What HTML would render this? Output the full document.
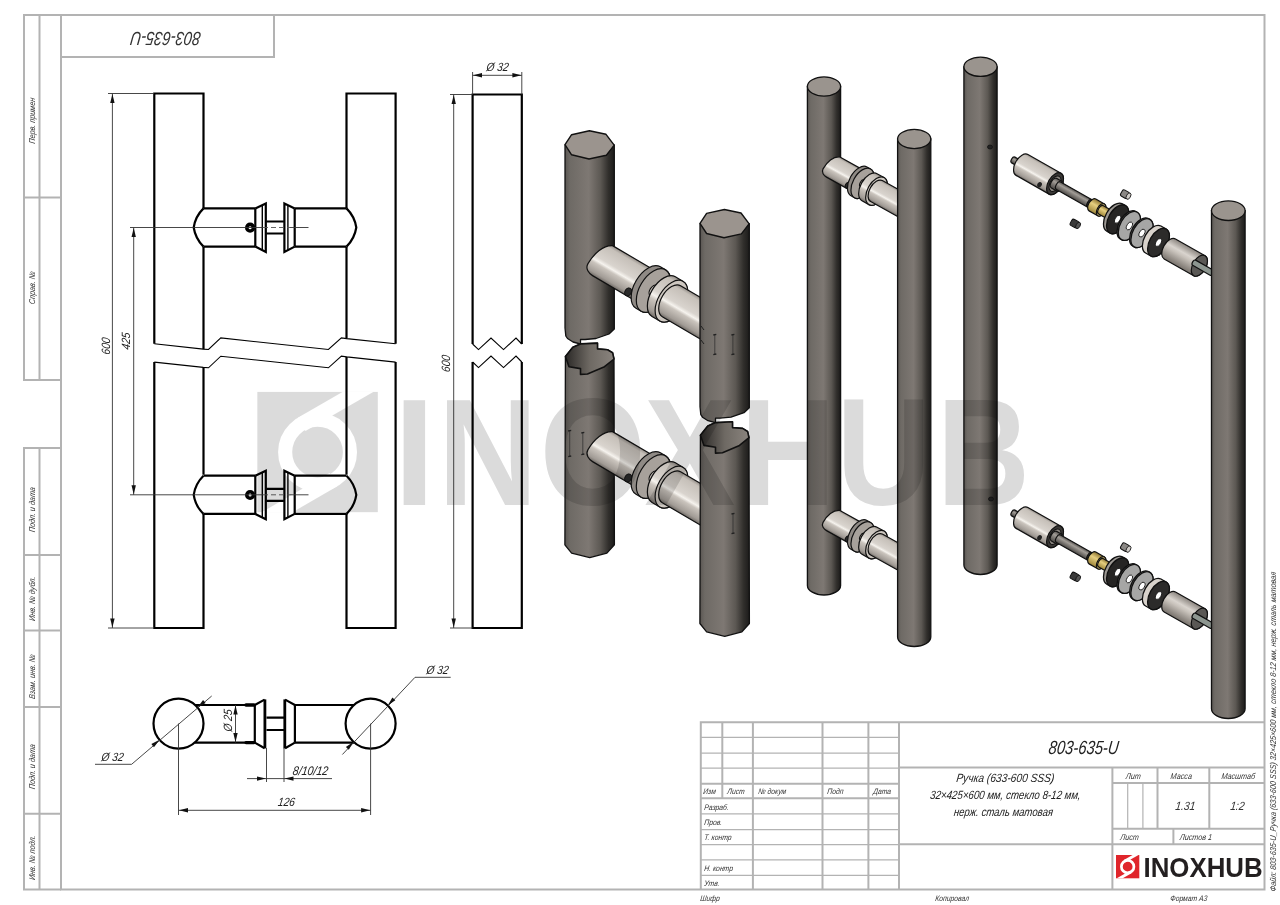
<!DOCTYPE html>
<html><head><meta charset="utf-8"><style>
html,body{margin:0;padding:0;background:#fff;width:1280px;height:905px;overflow:hidden}
svg{display:block}
text{font-family:"Liberation Sans",sans-serif}
</style></head><body>
<svg width="1280" height="905" viewBox="0 0 1280 905">
<rect width="1280" height="905" fill="#fff"/>
<!-- frame -->
<g stroke="#b3b3b3" stroke-width="2" fill="none">
<rect x="61" y="15" width="1203.5" height="874.5"/>
<polyline points="61,57 274,57 274,15"/>
<polyline points="61,15 24,15 24,380 61,380"/>
<line x1="39.5" y1="15" x2="39.5" y2="380"/>
<line x1="24" y1="197.5" x2="61" y2="197.5"/>
<polyline points="61,448 24,448 24,889.5 61,889.5"/>
<line x1="39.5" y1="448" x2="39.5" y2="889.5"/>
<line x1="24" y1="555" x2="61" y2="555"/>
<line x1="24" y1="630.5" x2="61" y2="630.5"/>
<line x1="24" y1="707" x2="61" y2="707"/>
<line x1="24" y1="813.7" x2="61" y2="813.7"/>
</g>
<g font-family="Liberation Sans" font-style="italic" fill="#333">
<text x="0" y="0" font-size="8.5" text-anchor="middle" transform="translate(35 121) rotate(-90) skewX(-7) scale(0.85 1)">Перв. примен</text>
<text x="0" y="0" font-size="8.5" text-anchor="middle" transform="translate(35 288) rotate(-90) skewX(-7) scale(0.85 1)">Справ. №</text>
<text x="0" y="0" font-size="8.5" text-anchor="middle" transform="translate(35 510) rotate(-90) skewX(-7) scale(0.85 1)">Подп. и дата</text>
<text x="0" y="0" font-size="8.5" text-anchor="middle" transform="translate(35 599) rotate(-90) skewX(-7) scale(0.85 1)">Инв. № дубл.</text>
<text x="0" y="0" font-size="8.5" text-anchor="middle" transform="translate(35 677) rotate(-90) skewX(-7) scale(0.85 1)">Взам. инв. №</text>
<text x="0" y="0" font-size="8.5" text-anchor="middle" transform="translate(35 767) rotate(-90) skewX(-7) scale(0.85 1)">Подп. и дата</text>
<text x="0" y="0" font-size="8.5" text-anchor="middle" transform="translate(35 858) rotate(-90) skewX(-7) scale(0.85 1)">Инв. № подл.</text>
<text x="0" y="0" font-size="19" text-anchor="middle" transform="translate(166.5 31.5) rotate(180) skewX(-7) scale(0.78 1)">803-635-U</text>
</g>
<!-- draw2d -->
<g fill="none" stroke="#000" stroke-width="2.2" stroke-linejoin="miter">
<polyline points="154.3,343.8 154.3,93.5 203.5,93.5 203.5,208.6"/>
<polyline points="203.5,246.75 203.5,349.1"/>
<polyline points="346.5,338.6 346.5,246.75"/>
<polyline points="346.5,208.6 346.5,93.5 395.6,93.5 395.6,343.8"/>
<polyline points="154.3,362.1 154.3,628 203.5,628 203.5,514"/>
<polyline points="203.5,474.7 203.5,367.40000000000003"/>
<polyline points="346.5,356.90000000000003 346.5,474.7"/>
<polyline points="346.5,514 346.5,628 395.6,628 395.6,362.1"/>
</g>
<polyline fill="none" stroke="#000" stroke-width="1.1" points="154.3,343.8 203.3,349.1 208.5,349.5 220.8,337.9 328.4,349.5 341.4,337.9 346.7,338.6 395.6,343.8"/>
<polyline fill="none" stroke="#000" stroke-width="1.1" points="154.3,362.1 203.3,367.40000000000003 208.5,367.8 220.8,356.2 328.4,367.8 341.4,356.2 346.7,356.90000000000003 395.6,362.1"/>
<g fill="none" stroke="#000" stroke-width="2.2">
<path d="M203.5,208.4 L255.3,208.4 M203.5,246.6 L255.3,246.6 M255.3,208.4 L255.3,246.6"/>
<path d="M203.5,208.4 A34,34 0 0 0 193.7,227.5 A34,34 0 0 0 203.5,246.6"/>
<path d="M255.3,208.4 L265.8,203.5 L265.8,252.0 L255.3,246.6"/>
<path d="M262.3,205.0 L262.3,250.5" stroke-width="1.4"/>
<path d="M266.3,221.5 L283.9,221.5 M266.3,233.5 L283.9,233.5"/>
<path d="M294.7,208.4 L284.4,203.5 L284.4,252.0 L294.7,246.6"/>
<path d="M287.9,205.0 L287.9,250.5" stroke-width="1.4"/>
<path d="M294.7,208.4 L346.5,208.4 M294.7,246.6 L346.5,246.6 M294.7,208.4 L294.7,246.6"/>
<path d="M346.5,208.4 A34,34 0 0 1 356.3,227.5 A34,34 0 0 1 346.5,246.6"/>
</g>
<circle cx="250.1" cy="227.7" r="3.3" fill="#fff" stroke="#000" stroke-width="3.6"/>
<line x1="130" y1="227.5" x2="263" y2="227.5" stroke="#333" stroke-width="0.9"/>
<line x1="263" y1="227.5" x2="290" y2="227.5" stroke="#555" stroke-width="0.9" stroke-dasharray="5 3"/>
<line x1="290" y1="227.5" x2="308.5" y2="227.5" stroke="#333" stroke-width="0.9"/>
<g fill="none" stroke="#000" stroke-width="2.2">
<path d="M203.5,475.7 L255.3,475.7 M203.5,513.9 L255.3,513.9 M255.3,475.7 L255.3,513.9"/>
<path d="M203.5,475.7 A34,34 0 0 0 193.7,494.8 A34,34 0 0 0 203.5,513.9"/>
<path d="M255.3,475.7 L265.8,470.8 L265.8,519.3 L255.3,513.9"/>
<path d="M262.3,472.3 L262.3,517.8" stroke-width="1.4"/>
<path d="M266.3,488.8 L283.9,488.8 M266.3,500.8 L283.9,500.8"/>
<path d="M294.7,475.7 L284.4,470.8 L284.4,519.3 L294.7,513.9"/>
<path d="M287.9,472.3 L287.9,517.8" stroke-width="1.4"/>
<path d="M294.7,475.7 L346.5,475.7 M294.7,513.9 L346.5,513.9 M294.7,475.7 L294.7,513.9"/>
<path d="M346.5,475.7 A34,34 0 0 1 356.3,494.8 A34,34 0 0 1 346.5,513.9"/>
</g>
<circle cx="250.1" cy="495.0" r="3.3" fill="#fff" stroke="#000" stroke-width="3.6"/>
<line x1="130" y1="494.8" x2="263" y2="494.8" stroke="#333" stroke-width="0.9"/>
<line x1="263" y1="494.8" x2="290" y2="494.8" stroke="#555" stroke-width="0.9" stroke-dasharray="5 3"/>
<line x1="290" y1="494.8" x2="308.5" y2="494.8" stroke="#333" stroke-width="0.9"/>
<line x1="108" y1="93.5" x2="154" y2="93.5" stroke="#333" stroke-width="0.9"/>
<line x1="108" y1="628" x2="154" y2="628" stroke="#333" stroke-width="0.9"/>
<line x1="112.4" y1="93.5" x2="112.4" y2="628" stroke="#333" stroke-width="0.9"/>
<polygon points="112.4,94 110.2,103 114.60000000000001,103" fill="#111"/>
<polygon points="112.4,627.5 110.2,618.5 114.60000000000001,618.5" fill="#111"/>
<line x1="133.7" y1="227.5" x2="133.7" y2="494.8" stroke="#333" stroke-width="0.9"/>
<polygon points="133.7,228 131.5,237 135.89999999999998,237" fill="#111"/>
<polygon points="133.7,494.3 131.5,485.3 135.89999999999998,485.3" fill="#111"/>
<rect x="472.6" y="94.5" width="49.2" height="0" />
<g fill="none" stroke="#000" stroke-width="2.2">
<polyline points="472.6,344 472.6,94.5 521.8,94.5 521.8,344"/>
<polyline points="472.6,362 472.6,628 521.8,628 521.8,362"/>
</g>
<polyline fill="none" stroke="#000" stroke-width="1.1" points="472.6,344 478.5,349.6 491,338 503.5,349.6 516,338 521.8,344"/>
<polyline fill="none" stroke="#000" stroke-width="1.1" points="472.6,362 478.5,367.6 491,356 503.5,367.6 516,356 521.8,362"/>
<line x1="450" y1="94.5" x2="472.6" y2="94.5" stroke="#333" stroke-width="0.9"/>
<line x1="450" y1="628" x2="472.6" y2="628" stroke="#333" stroke-width="0.9"/>
<line x1="453.7" y1="94.5" x2="453.7" y2="628" stroke="#333" stroke-width="0.9"/>
<polygon points="453.7,95 451.5,104 455.9,104" fill="#111"/>
<polygon points="453.7,627.5 451.5,618.5 455.9,618.5" fill="#111"/>
<line x1="472.6" y1="72" x2="472.6" y2="94.5" stroke="#333" stroke-width="0.9"/>
<line x1="521.8" y1="72" x2="521.8" y2="94.5" stroke="#333" stroke-width="0.9"/>
<line x1="472.6" y1="75.3" x2="521.8" y2="75.3" stroke="#333" stroke-width="0.9"/>
<polygon points="473,75.3 482,73.1 482,77.5" fill="#111"/>
<polygon points="521.4,75.3 512.4,73.1 512.4,77.5" fill="#111"/>
<g fill="none" stroke="#000" stroke-width="2.2">
<circle cx="178.5" cy="723.6" r="25"/>
<circle cx="370.6" cy="723.6" r="25"/>
<path d="M195,705 L254.8,705 M195,742.6 L254.8,742.6 M254.8,705 L254.8,742.6"/>
<path d="M254.8,705 L264.6,699.6 M254.8,742.6 L264.6,748.2"/>
<path d="M264.9,699.4 L264.9,748.4" stroke-width="2.8"/>
<path d="M266.5,717.7 L284,717.7 M266.5,730 L284,730"/>
<path d="M294.9,705 L285.1,699.6 M294.9,742.6 L285.1,748.2"/>
<path d="M284.8,699.4 L284.8,748.4" stroke-width="2.8"/>
<path d="M246,705 L254,705 M246,742.6 L254,742.6" stroke-width="3.4" stroke-linecap="round"/>
<path d="M294.9,705 L354,705 M294.9,742.6 L354,742.6 M294.9,705 L294.9,742.6"/>
</g>
<line x1="178.5" y1="723.6" x2="178.5" y2="815" stroke="#333" stroke-width="0.9"/>
<line x1="370.6" y1="723.6" x2="370.6" y2="815" stroke="#333" stroke-width="0.9"/>
<line x1="178.5" y1="810.3" x2="370.6" y2="810.3" stroke="#333" stroke-width="0.9"/>
<polygon points="179,810.3 188,808.0999999999999 188,812.5" fill="#111"/>
<polygon points="370.1,810.3 361.1,808.0999999999999 361.1,812.5" fill="#111"/>
<line x1="266.5" y1="748" x2="266.5" y2="782" stroke="#333" stroke-width="0.9"/>
<line x1="284" y1="748" x2="284" y2="782" stroke="#333" stroke-width="0.9"/>
<line x1="247" y1="778.6" x2="332" y2="778.6" stroke="#333" stroke-width="0.9"/>
<polygon points="266,778.6 257,776.4 257,780.8000000000001" fill="#111"/>
<polygon points="284.5,778.6 293.5,776.4 293.5,780.8000000000001" fill="#111"/>
<line x1="235.5" y1="705" x2="235.5" y2="742.6" stroke="#333" stroke-width="0.9"/>
<polygon points="235.5,705.5 233.3,714.5 237.7,714.5" fill="#111"/>
<polygon points="235.5,742.1 233.3,733.1 237.7,733.1" fill="#111"/>
<line x1="95" y1="764.3" x2="131.6" y2="764.3" stroke="#333" stroke-width="0.9"/>
<line x1="131.6" y1="764.3" x2="211.7" y2="696" stroke="#333" stroke-width="0.9"/>
<polygon points="159.5,739.8 153.95,747.16 151.35,744.12" fill="#111"/>
<polygon points="197.5,707.4 203.05,700.04 205.65,703.08" fill="#111"/>
<line x1="415" y1="677.3" x2="450.7" y2="677.3" stroke="#333" stroke-width="0.9"/>
<line x1="415" y1="677.3" x2="342.4" y2="754.5" stroke="#333" stroke-width="0.9"/>
<polygon points="387.7,705.4 392.41,697.48 395.32,700.22" fill="#111"/>
<polygon points="353.5,741.8 348.79,749.72 345.88,746.98" fill="#111"/>
<!-- text2d -->
<g font-family="Liberation Sans" font-style="italic" fill="#222">
<text x="0" y="0" font-size="12" text-anchor="middle" transform="translate(110 346.5) rotate(-90) skewX(-8) scale(0.85 1)">600</text>
<text x="0" y="0" font-size="12" text-anchor="middle" transform="translate(129.5 341.5) rotate(-90) skewX(-8) scale(0.85 1)">425</text>
<text x="0" y="0" font-size="12" text-anchor="middle" transform="translate(450 364) rotate(-90) skewX(-8) scale(0.85 1)">600</text>
<text x="0" y="0" font-size="12" text-anchor="middle" transform="translate(497 71) skewX(-8) scale(0.85 1)">Ø 32</text>
<text x="0" y="0" font-size="12" text-anchor="middle" transform="translate(112 761) skewX(-8) scale(0.85 1)">Ø 32</text>
<text x="0" y="0" font-size="12" text-anchor="middle" transform="translate(437 674) skewX(-8) scale(0.85 1)">Ø 32</text>
<text x="0" y="0" font-size="12" text-anchor="middle" transform="translate(232 721) rotate(-90) skewX(-8) scale(0.85 1)">Ø 25</text>
<text x="0" y="0" font-size="12.5" text-anchor="middle" transform="translate(310 775) skewX(-8) scale(0.85 1)">8/10/12</text>
<text x="0" y="0" font-size="12" text-anchor="middle" transform="translate(286 806) skewX(-8) scale(0.85 1)">126</text>
</g>
<!-- 3d -->
<defs>
<linearGradient id="col" x1="0" y1="0" x2="1" y2="0">
<stop offset="0" stop-color="#5a5652"/><stop offset="0.1" stop-color="#6e6a65"/>
<stop offset="0.48" stop-color="#7e7873"/><stop offset="0.72" stop-color="#5c5853"/>
<stop offset="0.88" stop-color="#312f2c"/><stop offset="1" stop-color="#1c1b1a"/>
</linearGradient>
<linearGradient id="inner" x1="0" y1="0" x2="1" y2="0">
<stop offset="0" stop-color="#2a2826"/><stop offset="0.5" stop-color="#6e6963"/><stop offset="1" stop-color="#8a847e"/>
</linearGradient>
<linearGradient id="slv" x1="0" y1="0" x2="0" y2="1">
<stop offset="0" stop-color="#948e88"/><stop offset="0.1" stop-color="#c6c0b9"/>
<stop offset="0.48" stop-color="#d9d4ce"/><stop offset="0.58" stop-color="#f6f3ee"/>
<stop offset="0.66" stop-color="#cac4bd"/><stop offset="0.9" stop-color="#a19b95"/>
<stop offset="1" stop-color="#6f6a65"/>
</linearGradient>
<linearGradient id="slv2" x1="0" y1="0" x2="0" y2="1">
<stop offset="0" stop-color="#8a847e"/><stop offset="0.35" stop-color="#d9d4ce"/><stop offset="0.5" stop-color="#c8c2bb"/><stop offset="1" stop-color="#77716b"/>
</linearGradient>
<linearGradient id="rod" x1="0" y1="0" x2="0" y2="1">
<stop offset="0" stop-color="#55524f"/><stop offset="0.35" stop-color="#a29d97"/><stop offset="1" stop-color="#4a4744"/>
</linearGradient>
<linearGradient id="brass" x1="0" y1="0" x2="0" y2="1">
<stop offset="0" stop-color="#8a7230"/><stop offset="0.4" stop-color="#e6cf80"/><stop offset="1" stop-color="#9c8438"/>
</linearGradient>
</defs>
<path d="M565.0,145 L614.3,145 L614.3,329 L609,334 L596,338.5 L585,339.5 L580.5,339.5 L580.5,344 L573,342 L567.5,338.5 L565.8,336 L565,328 Z" fill="url(#col)" stroke="#111" stroke-width="1.3" stroke-linejoin="round"/>
<polygon points="565,144.7 571.6,134.7 589.4,130.8 606,134.3 614.2,145.1 606.4,155.2 589,159 571.6,154.8" fill="#9b948e" stroke="#111" stroke-width="1.4" stroke-linejoin="round"/>
<path d="M565.4,356.6 L572.8,347.3 L580.5,343.9 L597.5,343.1 L597.5,348.9 L607.6,349.7 L612.6,352.8 L614,359 L614.4,544.8 L606.9,553.1 L589.8,557.6 L571.6,553.1 L564.9,544.8 Z" fill="url(#col)" stroke="#111" stroke-width="1.3" stroke-linejoin="round"/>
<path d="M565.4,356.6 L572.8,347.3 L580.5,343.9 L597.5,343.1 L597.5,348.9 L607.6,349.7 L612.6,352.8 L614,359 L604.5,366.7 L587.5,374 L580.5,374.4 L580.5,368.6 L569,366.7 L565.4,356.6 Z" fill="url(#inner)" stroke="#111" stroke-width="1.6" stroke-linejoin="round"/>
<g transform="translate(589.6 253) rotate(30.5)"><path d="M16,-18 L71,-18 A10.386,18 0 0 1 71,18 L14,18 C10,18 4,16 4,10 C4,-2 8,-14 16,-18 Z" fill="url(#slv)" stroke="#111" stroke-width="1.2"/></g>
<g transform="translate(589.6 253) rotate(30.5)"><ellipse cx="53" cy="14" rx="3.2" ry="4.2" fill="#2a2a2a" stroke="#111"/></g>
<g transform="translate(589.6 253) rotate(30.5)"><path d="M68,-24 L74,-24 A13.847999999999999,24 0 0 1 74,24 L68,24 A13.847999999999999,24 0 0 1 68,-24 Z" fill="#8f8a85" stroke="#111" stroke-width="1.2"/><ellipse cx="74" cy="0" rx="13.847999999999999" ry="24" fill="#a7a19b" stroke="#111" stroke-width="1.2"/></g>
<g transform="translate(589.6 253) rotate(30.5)"><path d="M74,-6 L87,-6 A3.4619999999999997,6 0 0 1 87,6 L74,6 A3.4619999999999997,6 0 0 1 74,-6 Z" fill="#cfc9c2" stroke="#111" stroke-width="1.2"/></g>
<g transform="translate(589.6 253) rotate(30.5)"><path d="M86,-23 L95,-23 A13.270999999999999,23 0 0 1 95,23 L86,23 A13.270999999999999,23 0 0 1 86,-23 Z" fill="url(#slv)" stroke="#111" stroke-width="1.2"/><ellipse cx="95" cy="0" rx="13.270999999999999" ry="23" fill="#cdc7c0" stroke="#111" stroke-width="1.2"/></g>
<g transform="translate(589.6 253) rotate(30.5)"><path d="M95,-18 L140,-18 A10.386,18 0 0 1 140,18 L95,18 A10.386,18 0 0 1 95,-18 Z" fill="url(#slv)" stroke="#111" stroke-width="1.2"/></g>
<g transform="translate(589.6 439) rotate(30.5)"><path d="M16,-18 L71,-18 A10.386,18 0 0 1 71,18 L14,18 C10,18 4,16 4,10 C4,-2 8,-14 16,-18 Z" fill="url(#slv)" stroke="#111" stroke-width="1.2"/></g>
<g transform="translate(589.6 439) rotate(30.5)"><ellipse cx="53" cy="14" rx="3.2" ry="4.2" fill="#2a2a2a" stroke="#111"/></g>
<g transform="translate(589.6 439) rotate(30.5)"><path d="M68,-24 L74,-24 A13.847999999999999,24 0 0 1 74,24 L68,24 A13.847999999999999,24 0 0 1 68,-24 Z" fill="#8f8a85" stroke="#111" stroke-width="1.2"/><ellipse cx="74" cy="0" rx="13.847999999999999" ry="24" fill="#a7a19b" stroke="#111" stroke-width="1.2"/></g>
<g transform="translate(589.6 439) rotate(30.5)"><path d="M74,-6 L87,-6 A3.4619999999999997,6 0 0 1 87,6 L74,6 A3.4619999999999997,6 0 0 1 74,-6 Z" fill="#cfc9c2" stroke="#111" stroke-width="1.2"/></g>
<g transform="translate(589.6 439) rotate(30.5)"><path d="M86,-23 L95,-23 A13.270999999999999,23 0 0 1 95,23 L86,23 A13.270999999999999,23 0 0 1 86,-23 Z" fill="url(#slv)" stroke="#111" stroke-width="1.2"/><ellipse cx="95" cy="0" rx="13.270999999999999" ry="23" fill="#cdc7c0" stroke="#111" stroke-width="1.2"/></g>
<g transform="translate(589.6 439) rotate(30.5)"><path d="M95,-18 L140,-18 A10.386,18 0 0 1 140,18 L95,18 A10.386,18 0 0 1 95,-18 Z" fill="url(#slv)" stroke="#111" stroke-width="1.2"/></g>
<path d="M700.0,223.7 L749.3,223.7 L749.3,407.7 L744,412.7 L731,417.2 L720,418.2 L715.5,418.2 L715.5,422.7 L708,420.7 L702.5,417.2 L700.8,414.7 L700,406.7 Z" fill="url(#col)" stroke="#111" stroke-width="1.3" stroke-linejoin="round"/>
<polygon points="700,223.39999999999998 706.6,213.39999999999998 724.4,209.5 741,213.0 749.2,223.8 741.4,233.89999999999998 724,237.7 706.6,233.5" fill="#9b948e" stroke="#111" stroke-width="1.4" stroke-linejoin="round"/>
<path d="M700.4,435.3 L707.8,426.0 L715.5,422.59999999999997 L732.5,421.8 L732.5,427.59999999999997 L742.6,428.4 L747.6,431.5 L749,437.7 L749.4,623.5 L741.9,631.8000000000001 L724.8,636.3000000000001 L706.6,631.8000000000001 L699.9,623.5 Z" fill="url(#col)" stroke="#111" stroke-width="1.3" stroke-linejoin="round"/>
<path d="M700.4,435.3 L707.8,426.0 L715.5,422.59999999999997 L732.5,421.8 L732.5,427.59999999999997 L742.6,428.4 L747.6,431.5 L749,437.7 L739.5,445.4 L722.5,452.7 L715.5,453.09999999999997 L715.5,447.3 L704,445.4 L700.4,435.3 Z" fill="url(#inner)" stroke="#111" stroke-width="1.6" stroke-linejoin="round"/>
<path d="M714.8,335 L714.8,354" stroke="#2a2a2a" stroke-width="0.7"/><path d="M713.3,335 L716.3,334.3 M713.3,354.7 L716.3,354" stroke="#222" stroke-width="1.3"/>
<path d="M732.9,335 L732.9,354" stroke="#2a2a2a" stroke-width="0.7"/><path d="M731.4,335 L734.4,334.3 M731.4,354.7 L734.4,354" stroke="#222" stroke-width="1.3"/>
<path d="M733,514 L733,533" stroke="#2a2a2a" stroke-width="0.7"/><path d="M731.5,514 L734.5,513.3 M731.5,533.7 L734.5,533" stroke="#222" stroke-width="1.3"/>
<path d="M569.7,431 L569.7,456" stroke="#2a2a2a" stroke-width="0.7"/><path d="M568.2,431 L571.2,430.3 M568.2,456.7 L571.2,456" stroke="#222" stroke-width="1.3"/>
<path d="M582.8,433 L582.8,454" stroke="#2a2a2a" stroke-width="0.7"/><path d="M581.3,433 L584.3,432.3 M581.3,454.7 L584.3,454" stroke="#222" stroke-width="1.3"/>
<path d="M701,326 L704,330 M701,340 L704,344" stroke="#222" stroke-width="1"/>
<path d="M807.4,86.5 L840.6,86.5 L840.6,585.4 A16.6,9.6 0 0 1 807.4,585.4 Z" fill="url(#col)" stroke="#111" stroke-width="1.3"/>
<ellipse cx="824" cy="86.5" rx="16.6" ry="9.6" fill="#9a948e" stroke="#111" stroke-width="1.3"/>
<g transform="translate(824 162) rotate(29)"><path d="M11,-12 L42,-12 A6.9239999999999995,12 0 0 1 42,12 L9.5,12 C6.5,12 2.5,10.5 2.5,6.5 C2.5,-1.5 5.5,-9.5 11,-12 Z" fill="url(#slv)" stroke="#111" stroke-width="1.2"/></g>
<g transform="translate(824 162) rotate(29)"><ellipse cx="32" cy="9" rx="2.2" ry="3" fill="#2a2a2a" stroke="#111"/></g>
<g transform="translate(824 162) rotate(29)"><path d="M40,-16.5 L44,-16.5 A9.520499999999998,16.5 0 0 1 44,16.5 L40,16.5 A9.520499999999998,16.5 0 0 1 40,-16.5 Z" fill="#8f8a85" stroke="#111" stroke-width="1.2"/><ellipse cx="44" cy="0" rx="9.520499999999998" ry="16.5" fill="#a7a19b" stroke="#111" stroke-width="1.2"/></g>
<g transform="translate(824 162) rotate(29)"><path d="M44,-4 L53,-4 A2.308,4 0 0 1 53,4 L44,4 A2.308,4 0 0 1 44,-4 Z" fill="#cfc9c2" stroke="#111" stroke-width="1.2"/></g>
<g transform="translate(824 162) rotate(29)"><path d="M52,-15.5 L60,-15.5 A8.9435,15.5 0 0 1 60,15.5 L52,15.5 A8.9435,15.5 0 0 1 52,-15.5 Z" fill="url(#slv)" stroke="#111" stroke-width="1.2"/><ellipse cx="60" cy="0" rx="8.9435" ry="15.5" fill="#cdc7c0" stroke="#111" stroke-width="1.2"/></g>
<g transform="translate(824 162) rotate(29)"><path d="M60,-12 L100,-12 A6.9239999999999995,12 0 0 1 100,12 L60,12 A6.9239999999999995,12 0 0 1 60,-12 Z" fill="url(#slv)" stroke="#111" stroke-width="1.2"/></g>
<g transform="translate(824 515.5) rotate(29)"><path d="M11,-12 L42,-12 A6.9239999999999995,12 0 0 1 42,12 L9.5,12 C6.5,12 2.5,10.5 2.5,6.5 C2.5,-1.5 5.5,-9.5 11,-12 Z" fill="url(#slv)" stroke="#111" stroke-width="1.2"/></g>
<g transform="translate(824 515.5) rotate(29)"><ellipse cx="32" cy="9" rx="2.2" ry="3" fill="#2a2a2a" stroke="#111"/></g>
<g transform="translate(824 515.5) rotate(29)"><path d="M40,-16.5 L44,-16.5 A9.520499999999998,16.5 0 0 1 44,16.5 L40,16.5 A9.520499999999998,16.5 0 0 1 40,-16.5 Z" fill="#8f8a85" stroke="#111" stroke-width="1.2"/><ellipse cx="44" cy="0" rx="9.520499999999998" ry="16.5" fill="#a7a19b" stroke="#111" stroke-width="1.2"/></g>
<g transform="translate(824 515.5) rotate(29)"><path d="M44,-4 L53,-4 A2.308,4 0 0 1 53,4 L44,4 A2.308,4 0 0 1 44,-4 Z" fill="#cfc9c2" stroke="#111" stroke-width="1.2"/></g>
<g transform="translate(824 515.5) rotate(29)"><path d="M52,-15.5 L60,-15.5 A8.9435,15.5 0 0 1 60,15.5 L52,15.5 A8.9435,15.5 0 0 1 52,-15.5 Z" fill="url(#slv)" stroke="#111" stroke-width="1.2"/><ellipse cx="60" cy="0" rx="8.9435" ry="15.5" fill="#cdc7c0" stroke="#111" stroke-width="1.2"/></g>
<g transform="translate(824 515.5) rotate(29)"><path d="M60,-12 L100,-12 A6.9239999999999995,12 0 0 1 100,12 L60,12 A6.9239999999999995,12 0 0 1 60,-12 Z" fill="url(#slv)" stroke="#111" stroke-width="1.2"/></g>
<path d="M897.6,139 L930.8000000000001,139 L930.8000000000001,636.9 A16.6,9.6 0 0 1 897.6,636.9 Z" fill="url(#col)" stroke="#111" stroke-width="1.3"/>
<ellipse cx="914.2" cy="139" rx="16.6" ry="9.6" fill="#9a948e" stroke="#111" stroke-width="1.3"/>
<path d="M963.9,66.8 L997.1,66.8 L997.1,564.9 A16.6,9.6 0 0 1 963.9,564.9 Z" fill="url(#col)" stroke="#111" stroke-width="1.3"/>
<ellipse cx="980.5" cy="66.8" rx="16.6" ry="9.6" fill="#9a948e" stroke="#111" stroke-width="1.3"/>
<ellipse cx="990" cy="147" rx="2.5" ry="2" fill="#222" stroke="#111" stroke-width="0.8"/>
<ellipse cx="991" cy="499" rx="2.5" ry="2" fill="#222" stroke="#111" stroke-width="0.8"/>
<g transform="translate(1013.3 160) rotate(29.6)"><path d="M0,-3.3 L12,-3.3 A1.9040999999999997,3.3 0 0 1 12,3.3 L0,3.3 A1.9040999999999997,3.3 0 0 1 0,-3.3 Z" fill="url(#rod)" stroke="#111" stroke-width="1.2"/><ellipse cx="12" cy="0" rx="1.9040999999999997" ry="3.3" fill="#555" stroke="#111" stroke-width="1.2"/></g>
<g transform="translate(1013.3 160) rotate(29.6)"><path d="M10,-12 L48,-12 A6.9239999999999995,12 0 0 1 48,12 L10,12 A6.9239999999999995,12 0 0 1 10,-12 Z" fill="url(#slv)" stroke="#111" stroke-width="1.2"/><ellipse cx="48" cy="0" rx="6.9239999999999995" ry="12" fill="#3a3836" stroke="#111" stroke-width="1.2"/></g>
<g transform="translate(1013.3 160) rotate(29.6)"><ellipse cx="48" cy="0" rx="5" ry="8.5" fill="#8a857f" stroke="#111"/><ellipse cx="35" cy="8.5" rx="2.2" ry="2.8" fill="#222"/></g>
<g transform="translate(1013.3 160) rotate(29.6)"><path d="M47,-5.5 L53,-5.5 A3.1734999999999998,5.5 0 0 1 53,5.5 L47,5.5 A3.1734999999999998,5.5 0 0 1 47,-5.5 Z" fill="url(#rod)" stroke="#111" stroke-width="1.2"/></g>
<g transform="translate(1013.3 160) rotate(29.6)"><path d="M52,-4.3 L88,-4.3 A2.4810999999999996,4.3 0 0 1 88,4.3 L52,4.3 A2.4810999999999996,4.3 0 0 1 52,-4.3 Z" fill="url(#rod)" stroke="#111" stroke-width="1.2"/><ellipse cx="88" cy="0" rx="2.4810999999999996" ry="4.3" fill="#2a2826" stroke="#111" stroke-width="1.2"/></g>
<g transform="translate(1013.3 160) rotate(29.6)"><path d="M91,-6.8 L101,-6.8 A3.9235999999999995,6.8 0 0 1 101,6.8 L91,6.8 A3.9235999999999995,6.8 0 0 1 91,-6.8 Z" fill="url(#brass)" stroke="#111" stroke-width="1.2"/><ellipse cx="101" cy="0" rx="3.9235999999999995" ry="6.8" fill="#d8c070" stroke="#111" stroke-width="1.2"/></g>
<g transform="translate(1013.3 160) rotate(29.6)"><path d="M101,-4.8 L110,-4.8 A2.7695999999999996,4.8 0 0 1 110,4.8 L101,4.8 A2.7695999999999996,4.8 0 0 1 101,-4.8 Z" fill="url(#brass)" stroke="#111" stroke-width="1.2"/></g>
<g transform="translate(1013.3 160) rotate(29.6)"><path d="M116.5,-15.8 L120,-15.8 A9.1166,15.8 0 0 1 120,15.8 L116.5,15.8 A9.1166,15.8 0 0 1 116.5,-15.8 Z" fill="#9d9994" stroke="#111" stroke-width="1.3"/><ellipse cx="120" cy="0" rx="9.1166" ry="15.8" fill="#262524" stroke="#111" stroke-width="1.3"/><ellipse cx="120" cy="0" rx="2.4810999999999996" ry="4.3" fill="#fff" stroke="#111" stroke-width="0.8"/></g>
<g transform="translate(1013.3 160) rotate(29.6)"><path d="M132.0,-15.8 L133.5,-15.8 A9.1166,15.8 0 0 1 133.5,15.8 L132.0,15.8 A9.1166,15.8 0 0 1 132.0,-15.8 Z" fill="#666" stroke="#111" stroke-width="1.3"/><ellipse cx="133.5" cy="0" rx="9.1166" ry="15.8" fill="#a6a6a5" stroke="#111" stroke-width="1.3"/><ellipse cx="133.5" cy="0" rx="2.4810999999999996" ry="4.3" fill="#fff" stroke="#111" stroke-width="0.8"/></g>
<g transform="translate(1013.3 160) rotate(29.6)"><path d="M146.5,-15.8 L148,-15.8 A9.1166,15.8 0 0 1 148,15.8 L146.5,15.8 A9.1166,15.8 0 0 1 146.5,-15.8 Z" fill="#666" stroke="#111" stroke-width="1.3"/><ellipse cx="148" cy="0" rx="9.1166" ry="15.8" fill="#a6a6a5" stroke="#111" stroke-width="1.3"/><ellipse cx="148" cy="0" rx="2.4810999999999996" ry="4.3" fill="#fff" stroke="#111" stroke-width="0.8"/></g>
<g transform="translate(1013.3 160) rotate(29.6)"><path d="M161,-15.5 L167,-15.5 A8.9435,15.5 0 0 1 167,15.5 L161,15.5 A8.9435,15.5 0 0 1 161,-15.5 Z" fill="#d8d2cb" stroke="#111" stroke-width="1.3"/><ellipse cx="167" cy="0" rx="8.9435" ry="15.5" fill="#2c2b2a" stroke="#111" stroke-width="1.3"/><ellipse cx="167" cy="0" rx="2.4810999999999996" ry="4.3" fill="#fff" stroke="#111" stroke-width="0.8"/></g>
<g transform="translate(1013.3 160) rotate(29.6)"><path d="M180,-11.5 L214,-11.5 A6.6354999999999995,11.5 0 0 1 214,11.5 L180,11.5 A6.6354999999999995,11.5 0 0 1 180,-11.5 Z" fill="url(#slv2)" stroke="#111" stroke-width="1.2"/><ellipse cx="214" cy="0" rx="6.6354999999999995" ry="11.5" fill="#5a5855" stroke="#111" stroke-width="1.2"/></g>
<g transform="translate(1013.3 160) rotate(29.6)"><path d="M208,-3 L228,-3 A1.7309999999999999,3 0 0 1 228,3 L208,3 A1.7309999999999999,3 0 0 1 208,-3 Z" fill="#8d9690" stroke="#111" stroke-width="1.2"/></g>
<g transform="translate(1125 194.2) rotate(29)"><rect x="-4" y="-3.5" width="8" height="7" rx="2" fill="#8a8784" stroke="#111" stroke-width="1"/><ellipse cx="4" cy="0" rx="2" ry="3.5" fill="#d0ccc8" stroke="#111" stroke-width="0.8"/></g>
<g transform="translate(1074.6 223.5) rotate(29)"><rect x="-4" y="-3.5" width="8" height="7" rx="2" fill="#3a3a3a" stroke="#111" stroke-width="1"/><ellipse cx="4" cy="0" rx="2" ry="3.5" fill="#555" stroke="#111" stroke-width="0.8"/></g>
<g transform="translate(1013.3 513) rotate(29.6)"><path d="M0,-3.3 L12,-3.3 A1.9040999999999997,3.3 0 0 1 12,3.3 L0,3.3 A1.9040999999999997,3.3 0 0 1 0,-3.3 Z" fill="url(#rod)" stroke="#111" stroke-width="1.2"/><ellipse cx="12" cy="0" rx="1.9040999999999997" ry="3.3" fill="#555" stroke="#111" stroke-width="1.2"/></g>
<g transform="translate(1013.3 513) rotate(29.6)"><path d="M10,-12 L48,-12 A6.9239999999999995,12 0 0 1 48,12 L10,12 A6.9239999999999995,12 0 0 1 10,-12 Z" fill="url(#slv)" stroke="#111" stroke-width="1.2"/><ellipse cx="48" cy="0" rx="6.9239999999999995" ry="12" fill="#3a3836" stroke="#111" stroke-width="1.2"/></g>
<g transform="translate(1013.3 513) rotate(29.6)"><ellipse cx="48" cy="0" rx="5" ry="8.5" fill="#8a857f" stroke="#111"/><ellipse cx="35" cy="8.5" rx="2.2" ry="2.8" fill="#222"/></g>
<g transform="translate(1013.3 513) rotate(29.6)"><path d="M47,-5.5 L53,-5.5 A3.1734999999999998,5.5 0 0 1 53,5.5 L47,5.5 A3.1734999999999998,5.5 0 0 1 47,-5.5 Z" fill="url(#rod)" stroke="#111" stroke-width="1.2"/></g>
<g transform="translate(1013.3 513) rotate(29.6)"><path d="M52,-4.3 L88,-4.3 A2.4810999999999996,4.3 0 0 1 88,4.3 L52,4.3 A2.4810999999999996,4.3 0 0 1 52,-4.3 Z" fill="url(#rod)" stroke="#111" stroke-width="1.2"/><ellipse cx="88" cy="0" rx="2.4810999999999996" ry="4.3" fill="#2a2826" stroke="#111" stroke-width="1.2"/></g>
<g transform="translate(1013.3 513) rotate(29.6)"><path d="M91,-6.8 L101,-6.8 A3.9235999999999995,6.8 0 0 1 101,6.8 L91,6.8 A3.9235999999999995,6.8 0 0 1 91,-6.8 Z" fill="url(#brass)" stroke="#111" stroke-width="1.2"/><ellipse cx="101" cy="0" rx="3.9235999999999995" ry="6.8" fill="#d8c070" stroke="#111" stroke-width="1.2"/></g>
<g transform="translate(1013.3 513) rotate(29.6)"><path d="M101,-4.8 L110,-4.8 A2.7695999999999996,4.8 0 0 1 110,4.8 L101,4.8 A2.7695999999999996,4.8 0 0 1 101,-4.8 Z" fill="url(#brass)" stroke="#111" stroke-width="1.2"/></g>
<g transform="translate(1013.3 513) rotate(29.6)"><path d="M116.5,-15.8 L120,-15.8 A9.1166,15.8 0 0 1 120,15.8 L116.5,15.8 A9.1166,15.8 0 0 1 116.5,-15.8 Z" fill="#9d9994" stroke="#111" stroke-width="1.3"/><ellipse cx="120" cy="0" rx="9.1166" ry="15.8" fill="#262524" stroke="#111" stroke-width="1.3"/><ellipse cx="120" cy="0" rx="2.4810999999999996" ry="4.3" fill="#fff" stroke="#111" stroke-width="0.8"/></g>
<g transform="translate(1013.3 513) rotate(29.6)"><path d="M132.0,-15.8 L133.5,-15.8 A9.1166,15.8 0 0 1 133.5,15.8 L132.0,15.8 A9.1166,15.8 0 0 1 132.0,-15.8 Z" fill="#666" stroke="#111" stroke-width="1.3"/><ellipse cx="133.5" cy="0" rx="9.1166" ry="15.8" fill="#a6a6a5" stroke="#111" stroke-width="1.3"/><ellipse cx="133.5" cy="0" rx="2.4810999999999996" ry="4.3" fill="#fff" stroke="#111" stroke-width="0.8"/></g>
<g transform="translate(1013.3 513) rotate(29.6)"><path d="M146.5,-15.8 L148,-15.8 A9.1166,15.8 0 0 1 148,15.8 L146.5,15.8 A9.1166,15.8 0 0 1 146.5,-15.8 Z" fill="#666" stroke="#111" stroke-width="1.3"/><ellipse cx="148" cy="0" rx="9.1166" ry="15.8" fill="#a6a6a5" stroke="#111" stroke-width="1.3"/><ellipse cx="148" cy="0" rx="2.4810999999999996" ry="4.3" fill="#fff" stroke="#111" stroke-width="0.8"/></g>
<g transform="translate(1013.3 513) rotate(29.6)"><path d="M161,-15.5 L167,-15.5 A8.9435,15.5 0 0 1 167,15.5 L161,15.5 A8.9435,15.5 0 0 1 161,-15.5 Z" fill="#d8d2cb" stroke="#111" stroke-width="1.3"/><ellipse cx="167" cy="0" rx="8.9435" ry="15.5" fill="#2c2b2a" stroke="#111" stroke-width="1.3"/><ellipse cx="167" cy="0" rx="2.4810999999999996" ry="4.3" fill="#fff" stroke="#111" stroke-width="0.8"/></g>
<g transform="translate(1013.3 513) rotate(29.6)"><path d="M180,-11.5 L214,-11.5 A6.6354999999999995,11.5 0 0 1 214,11.5 L180,11.5 A6.6354999999999995,11.5 0 0 1 180,-11.5 Z" fill="url(#slv2)" stroke="#111" stroke-width="1.2"/><ellipse cx="214" cy="0" rx="6.6354999999999995" ry="11.5" fill="#5a5855" stroke="#111" stroke-width="1.2"/></g>
<g transform="translate(1013.3 513) rotate(29.6)"><path d="M208,-3 L228,-3 A1.7309999999999999,3 0 0 1 228,3 L208,3 A1.7309999999999999,3 0 0 1 208,-3 Z" fill="#8d9690" stroke="#111" stroke-width="1.2"/></g>
<g transform="translate(1125 547.2) rotate(29)"><rect x="-4" y="-3.5" width="8" height="7" rx="2" fill="#8a8784" stroke="#111" stroke-width="1"/><ellipse cx="4" cy="0" rx="2" ry="3.5" fill="#d0ccc8" stroke="#111" stroke-width="0.8"/></g>
<g transform="translate(1074.6 576.5) rotate(29)"><rect x="-4" y="-3.5" width="8" height="7" rx="2" fill="#3a3a3a" stroke="#111" stroke-width="1"/><ellipse cx="4" cy="0" rx="2" ry="3.5" fill="#555" stroke="#111" stroke-width="0.8"/></g>
<path d="M1211.5,210.7 L1245.1,210.7 L1245.1,708.7 A16.8,9.8 0 0 1 1211.5,708.7 Z" fill="url(#col)" stroke="#111" stroke-width="1.3"/>
<ellipse cx="1228.3" cy="210.7" rx="16.8" ry="9.8" fill="#9a948e" stroke="#111" stroke-width="1.3"/>
<!-- title -->
<g stroke="#b3b3b3" fill="none">
<polyline stroke-width="2" points="700.8,889.5 700.8,722.3 1264.5,722.3"/>
<line x1="700.8" y1="737.4" x2="899" y2="737.4" stroke-width="1.2"/>
<line x1="700.8" y1="753.1" x2="899" y2="753.1" stroke-width="1.2"/>
<line x1="700.8" y1="768.2" x2="899" y2="768.2" stroke-width="1.2"/>
<line x1="700.8" y1="813.9" x2="899" y2="813.9" stroke-width="1.2"/>
<line x1="700.8" y1="829.6" x2="899" y2="829.6" stroke-width="1.2"/>
<line x1="700.8" y1="844.7" x2="899" y2="844.7" stroke-width="1.2"/>
<line x1="700.8" y1="859.8" x2="899" y2="859.8" stroke-width="1.2"/>
<line x1="700.8" y1="875.3" x2="899" y2="875.3" stroke-width="1.2"/>
<line x1="700.8" y1="783.7" x2="899" y2="783.7" stroke-width="2"/>
<line x1="700.8" y1="798.3" x2="899" y2="798.3" stroke-width="2"/>
<line x1="722.3" y1="722.3" x2="722.3" y2="798.3" stroke-width="2"/>
<line x1="752.9" y1="722.3" x2="752.9" y2="889.5" stroke-width="2"/>
<line x1="822.5" y1="722.3" x2="822.5" y2="889.5" stroke-width="2"/>
<line x1="868.4" y1="722.3" x2="868.4" y2="889.5" stroke-width="2"/>
<line x1="899" y1="722.3" x2="899" y2="889.5" stroke-width="2"/>
<line x1="899" y1="767.5" x2="1264.5" y2="767.5" stroke-width="2"/>
<line x1="899" y1="844.3" x2="1264.5" y2="844.3" stroke-width="2"/>
<line x1="1112.4" y1="767.5" x2="1112.4" y2="889.5" stroke-width="2"/>
<line x1="1112.4" y1="783.1" x2="1264.5" y2="783.1" stroke-width="2"/>
<line x1="1112.4" y1="828.8" x2="1264.5" y2="828.8" stroke-width="2"/>
<line x1="1157.5" y1="767.5" x2="1157.5" y2="828.8" stroke-width="2"/>
<line x1="1209.3" y1="767.5" x2="1209.3" y2="828.8" stroke-width="2"/>
<line x1="1127.7" y1="783.1" x2="1127.7" y2="828.8" stroke-width="1.2"/>
<line x1="1142.9" y1="783.1" x2="1142.9" y2="828.8" stroke-width="1.2"/>
<line x1="1173.4" y1="828.8" x2="1173.4" y2="844.3" stroke-width="2"/>
</g>
<g font-family="Liberation Sans" font-style="italic" fill="#333">
<text x="0" y="0" font-size="8" text-anchor="start" transform="translate(703 794) skewX(-7) scale(0.85 1)">Изм</text>
<text x="0" y="0" font-size="8" text-anchor="start" transform="translate(727 794) skewX(-7) scale(0.85 1)">Лист</text>
<text x="0" y="0" font-size="8" text-anchor="start" transform="translate(758 794) skewX(-7) scale(0.85 1)">№ докум</text>
<text x="0" y="0" font-size="8" text-anchor="start" transform="translate(827 794) skewX(-7) scale(0.85 1)">Подп</text>
<text x="0" y="0" font-size="8" text-anchor="start" transform="translate(873 794) skewX(-7) scale(0.85 1)">Дата</text>
<text x="0" y="0" font-size="8" text-anchor="start" transform="translate(704 809.5) skewX(-7) scale(0.85 1)">Разраб.</text>
<text x="0" y="0" font-size="8" text-anchor="start" transform="translate(704 825) skewX(-7) scale(0.85 1)">Пров.</text>
<text x="0" y="0" font-size="8" text-anchor="start" transform="translate(704 840) skewX(-7) scale(0.85 1)">Т. контр</text>
<text x="0" y="0" font-size="8" text-anchor="start" transform="translate(704 871) skewX(-7) scale(0.85 1)">Н. контр</text>
<text x="0" y="0" font-size="8" text-anchor="start" transform="translate(704 886) skewX(-7) scale(0.85 1)">Утв.</text>
<text x="0" y="0" font-size="8" text-anchor="start" transform="translate(700 901) skewX(-7) scale(0.85 1)">Шифр</text>
<text x="0" y="0" font-size="8" text-anchor="start" transform="translate(935 901) skewX(-7) scale(0.85 1)">Копировал</text>
<text x="0" y="0" font-size="8" text-anchor="start" transform="translate(1170 901) skewX(-7) scale(0.85 1)">Формат А3</text>
<text x="0" y="0" font-size="19" text-anchor="middle" fill="#222" transform="translate(1083 753.5) skewX(-7) scale(0.78 1)">803-635-U</text>
<text x="0" y="0" font-size="12" text-anchor="middle" fill="#222" transform="translate(1005 781.5) skewX(-7) scale(0.85 1)">Ручка (633-600 SSS)</text>
<text x="0" y="0" font-size="12" text-anchor="middle" fill="#222" transform="translate(1005 798.5) skewX(-7) scale(0.81 1)">32×425×600 мм, стекло 8-12 мм,</text>
<text x="0" y="0" font-size="12" text-anchor="middle" fill="#222" transform="translate(1003 815.5) skewX(-7) scale(0.8 1)">нерж. сталь матовая</text>
<text x="0" y="0" font-size="8.5" text-anchor="middle" transform="translate(1133 779) skewX(-7) scale(0.85 1)">Лит</text>
<text x="0" y="0" font-size="8.5" text-anchor="middle" transform="translate(1181 779) skewX(-7) scale(0.85 1)">Масса</text>
<text x="0" y="0" font-size="8.5" text-anchor="middle" transform="translate(1238 779) skewX(-7) scale(0.85 1)">Масштаб</text>
<text x="0" y="0" font-size="12" text-anchor="middle" transform="translate(1185 810) skewX(-7) scale(0.85 1)">1.31</text>
<text x="0" y="0" font-size="12" text-anchor="middle" transform="translate(1237 810) skewX(-7) scale(0.85 1)">1:2</text>
<text x="0" y="0" font-size="8.5" text-anchor="start" transform="translate(1120 840) skewX(-7) scale(0.85 1)">Лист</text>
<text x="0" y="0" font-size="8.5" text-anchor="start" transform="translate(1179.5 840) skewX(-7) scale(0.85 1)">Листов 1</text>
<text x="0" y="0" font-size="8.5" text-anchor="middle" transform="translate(1275.5 732) rotate(-90) skewX(-7) scale(0.85 1)">Файл: 803-635-U_Ручка (633-600 SSS) 32×425×600 мм, стекло 8-12 мм, нерж. сталь матовая</text>
</g>
<g transform="translate(1116 855) scale(0.233)"><rect x="0" y="0" width="100" height="100" fill="#e0252b"/><circle cx="50" cy="50" r="26.85" fill="none" stroke="#fff" stroke-width="11.7"/><polygon points="71,0 96.5,0 40,32.6 33.6,21.6" fill="#fff"/><polygon points="29,100 3.5,100 60,67.4 66.4,78.4" fill="#fff"/></g>
<text x="0" y="0" font-family="Liberation Sans" font-weight="bold" font-size="27.5" fill="#231f20" transform="translate(1143.5 877) scale(0.94 1)">INOXHUB</text>
<!-- watermark -->
<defs><mask id="wm"><rect x="0" y="0" width="100" height="100" fill="#fff"/><circle cx="50" cy="50" r="26.85" fill="none" stroke="#000" stroke-width="11.7"/><polygon points="71,0 96.5,0 40,32.6 33.6,21.6" fill="#000"/><polygon points="29,100 3.5,100 60,67.4 66.4,78.4" fill="#000"/></mask></defs>
<g style="mix-blend-mode:multiply">
<g transform="translate(257.2 391.7) scale(1.207)"><rect x="0" y="0" width="100" height="100" fill="#dbdbdb" mask="url(#wm)"/></g>
<text x="0" y="0" font-family="Liberation Sans" font-weight="bold" font-size="1000" fill="#dbdbdb" transform="translate(393.79 504.5) scale(0.14860 0.15262)">I</text>
<text x="0" y="0" font-family="Liberation Sans" font-weight="bold" font-size="1000" fill="#dbdbdb" transform="translate(437.71 504.5) scale(0.13867 0.15262)">N</text>
<text x="0" y="0" font-family="Liberation Sans" font-weight="bold" font-size="1000" fill="#dbdbdb" transform="translate(539.71 504.5) scale(0.13646 0.15262)">O</text>
<text x="0" y="0" font-family="Liberation Sans" font-weight="bold" font-size="1000" fill="#dbdbdb" transform="translate(644.37 504.5) scale(0.13642 0.15262)">X</text>
<text x="0" y="0" font-family="Liberation Sans" font-weight="bold" font-size="1000" fill="#dbdbdb" transform="translate(740.15 504.5) scale(0.13203 0.15262)">H</text>
<text x="0" y="0" font-family="Liberation Sans" font-weight="bold" font-size="1000" fill="#dbdbdb" transform="translate(836.54 504.5) scale(0.13100 0.15262)">U</text>
<text x="0" y="0" font-family="Liberation Sans" font-weight="bold" font-size="1000" fill="#dbdbdb" transform="translate(936.89 504.5) scale(0.12857 0.15262)">B</text>
</g>
</svg>
</body></html>
